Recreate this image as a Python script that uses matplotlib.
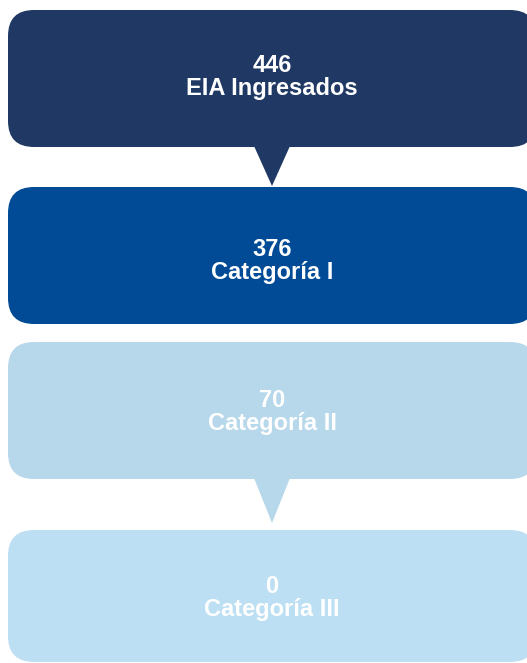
import matplotlib
matplotlib.use("Agg")
import matplotlib.pyplot as plt
from matplotlib.patches import FancyBboxPatch, Polygon

# data
values = [446, 376, 70, 0]
labels = ["EIA Ingresados", "Categoría I", "Categoría II", "Categoría III"]

# layout / style (pixels)
colors = ["#1f3864", "#004a96", "#b7d7ea", "#bcdff3"]
tops = [10, 187, 342, 530]
bottoms = [147, 324, 479, 662]
pointer_len = [39, 0, 44, 0]
text_offset = [62, 69, 65, 63]
left, right = 8, 536
radius = 26
cx = 272

fig = plt.figure(figsize=(5.27, 6.63), dpi=100)
ax = fig.add_axes([0, 0, 1, 1])
ax.set_xlim(0, 527)
ax.set_ylim(663, 0)
ax.axis("off")

for i, (val, lab) in enumerate(zip(values, labels)):
    top, bot = tops[i], bottoms[i]
    box = FancyBboxPatch((left, top), right - left, bot - top,
                         boxstyle="round,pad=0,rounding_size=%d" % radius,
                         facecolor=colors[i], edgecolor="none", zorder=2)
    ax.add_patch(box)

    if pointer_len[i]:
        tri = Polygon([(cx - 18, bot - 1), (cx + 18, bot - 1), (cx, bot + pointer_len[i])],
                      closed=True, facecolor=colors[i], edgecolor="none", zorder=3)
        ax.add_patch(tri)

    base = top + text_offset[i]
    ax.text(cx, base, str(val), ha="center", va="baseline", color="white",
            fontsize=17, fontweight="bold", family="Liberation Sans", zorder=4)
    ax.text(cx, base + 23, lab, ha="center", va="baseline", color="white",
            fontsize=17, fontweight="bold", family="Liberation Sans", zorder=4)

fig.savefig("out.png", dpi=100)
